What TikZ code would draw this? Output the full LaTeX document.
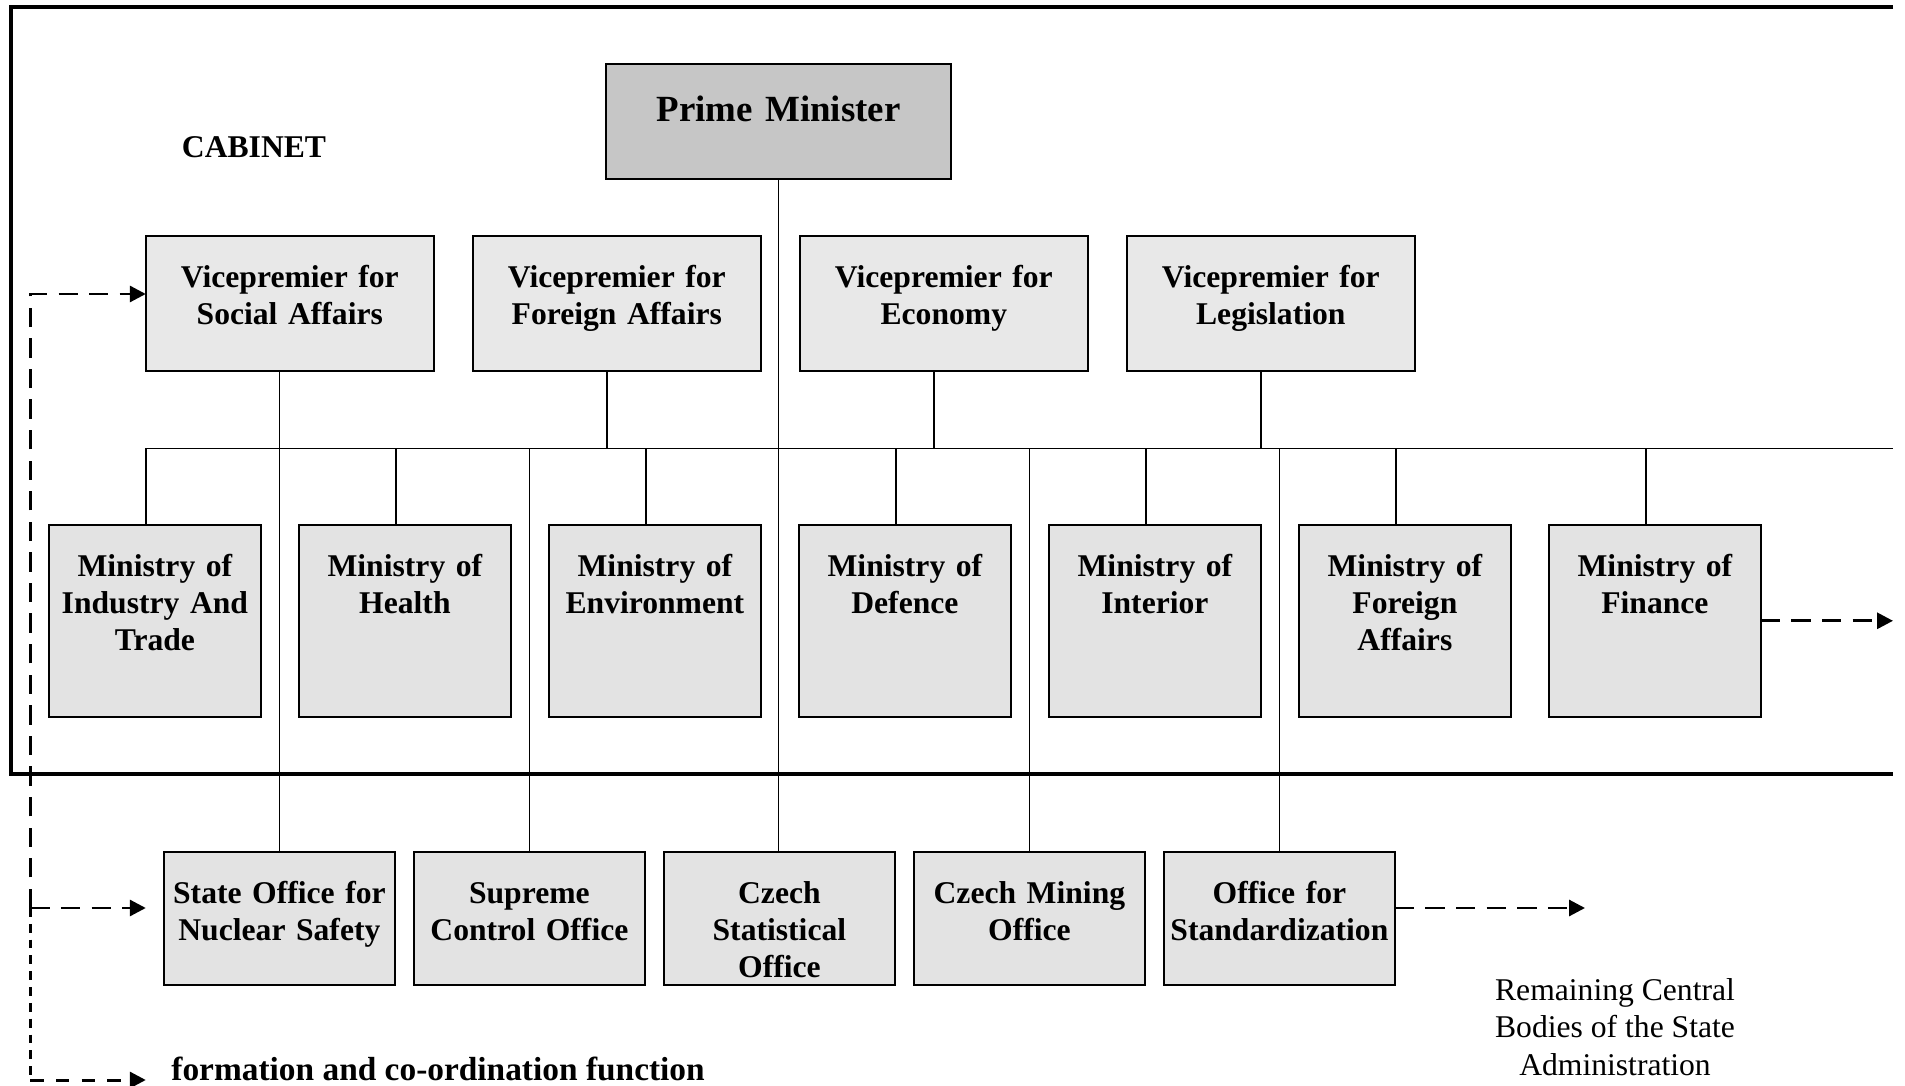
\documentclass[tikz,border=0pt]{standalone}
\usepackage{fontspec}
\setmainfont{Liberation Serif}
\usetikzlibrary{arrows.meta,positioning}
\definecolor{pmgray}{HTML}{C6C6C6}
\definecolor{vpgray}{HTML}{E8E8E8}
\definecolor{orggray}{HTML}{E3E3E3}

\begin{document}
\begin{tikzpicture}[>={Triangle[length=4.5pt,width=4.5pt]},
  font=\fontsize{9}{10.5}\selectfont\bfseries,
  org/.style={draw,line width=0.5pt,align=center,inner sep=0pt,outer sep=0pt,text height=5.2mm},
  pmbox/.style={org,fill=pmgray,text width=34.5mm,text height=5.8mm,text depth=5.7mm,font=\fontsize{10.5}{12}\selectfont\bfseries},
  vpbox/.style={org,fill=vpgray,text width=28.8mm,text depth=8.3mm},
  minbox/.style={org,fill=orggray,text width=21.2mm,text depth=14mm},
  offbox/.style={org,fill=orggray,text width=23.1mm,text depth=8.17mm},
  link/.style={line width=0.4pt},
  flow/.style={->,line width=0.85pt,dash pattern=on 5.5pt off 3.2pt},
  lab/.style={align=center}]
\useasboundingbox (0,-10.86) rectangle (19.05,0);
\draw[line width=1.15pt] (18.93,-0.07) -| (0.11,-7.74) -- (18.93,-7.74);
\node[lab] (cab) at (2.54,-1.47) {CABINET};
\node[pmbox] (pm) at (7.787,-1.215) {Prime Minister};
\node[vpbox] (vpSoc) at (2.898,-3.035) {Vicepremier for\\Social Affairs};
\node[vpbox,right=3.9mm of vpSoc] (vpFor) {Vicepremier for\\Foreign Affairs};
\node[vpbox,right=3.9mm of vpFor] (vpEco) {Vicepremier for\\Economy};
\node[vpbox,right=3.9mm of vpEco] (vpLeg) {Vicepremier for\\Legislation};
\node[minbox] (minInd) at (1.549,-6.208) {Ministry of\\Industry And\\Trade};
\node[minbox,right=3.8mm of minInd] (minHea) {Ministry of\\Health};
\node[minbox,right=3.8mm of minHea] (minEnv) {Ministry of\\Environment};
\node[minbox,right=3.8mm of minEnv] (minDef) {Ministry of\\Defence};
\node[minbox,right=3.8mm of minDef] (minInt) {Ministry of\\Interior};
\node[minbox,right=3.8mm of minInt] (minFor) {Ministry of\\Foreign\\Affairs};
\node[minbox,right=3.8mm of minFor] (minFin) {Ministry of\\Finance};
\node[offbox] (offNuc) at (2.794,-9.185) {State Office for\\Nuclear Safety};
\node[offbox,right=1.9mm of offNuc] (offSup) {Supreme\\Control Office};
\node[offbox,right=1.9mm of offSup] (offStat) {Czech\\Statistical\\Office};
\node[offbox,right=1.9mm of offStat] (offMin) {Czech Mining\\Office};
\node[offbox,right=1.9mm of offMin] (offStd) {Office for\\Standardization};
\node[lab,font=\fontsize{9}{10.7}\selectfont\mdseries] (rest) at (16.15,-10.27) {Remaining Central\\Bodies of the State\\Administration};
\node[anchor=west,font=\fontsize{9.5}{11}\selectfont\bfseries] (formLab) at (1.59,-10.69) {formation and co-ordination function};
\coordinate (busL) at (1.459,-4.483);
\coordinate (busR) at (18.93,-4.483);
\draw[link] (busL) -- (busR);
\draw[link] ([xshift=-0.9mm]minInd.north) -- ([xshift=-0.9mm]minInd.north |- busL);
\draw[link] ([xshift=-0.9mm]minHea.north) -- ([xshift=-0.9mm]minHea.north |- busL);
\draw[link] ([xshift=-0.9mm]minEnv.north) -- ([xshift=-0.9mm]minEnv.north |- busL);
\draw[link] ([xshift=-0.9mm]minDef.north) -- ([xshift=-0.9mm]minDef.north |- busL);
\draw[link] ([xshift=-0.9mm]minInt.north) -- ([xshift=-0.9mm]minInt.north |- busL);
\draw[link] ([xshift=-0.9mm]minFor.north) -- ([xshift=-0.9mm]minFor.north |- busL);
\draw[link] ([xshift=-0.9mm]minFin.north) -- ([xshift=-0.9mm]minFin.north |- busL);
\draw[link] ([xshift=-1mm]vpFor.south) -- ([xshift=-1mm]vpFor.south |- busL);
\draw[link] ([xshift=-1mm]vpEco.south) -- ([xshift=-1mm]vpEco.south |- busL);
\draw[link] ([xshift=-1mm]vpLeg.south) -- ([xshift=-1mm]vpLeg.south |- busL);
\draw[link] (offNuc.north |- vpSoc.south) -- (offNuc.north);
\draw[link] (pm.south) -- (pm.south |- offStat.north);
\draw[link] (offSup.north |- busL) -- (offSup.north);
\draw[link] (offMin.north |- busL) -- (offMin.north);
\draw[link] (offStd.north |- busL) -- (offStd.north);
\draw[flow] (minFin.east) -- (minFin.east -| busR);
\coordinate (toRest) at (15.85,-9.08);
\draw[flow] (offStd.east |- toRest) -- (toRest);
\coordinate (spine) at (0.304,-9.08);
\coordinate (foot) at (0.304,-10.80);
\draw[flow] (spine) |- ([yshift=0.95mm]vpSoc.west);
\draw[flow] (spine) -- (spine -| vpSoc.west);
\draw[flow,-,dash pattern=on 2.5pt off 2pt] (spine) -- (foot);
\draw[flow,dash pattern=on 3.8pt off 3.5pt] (foot) -- (foot -| vpSoc.west);
\end{tikzpicture}
\end{document}
